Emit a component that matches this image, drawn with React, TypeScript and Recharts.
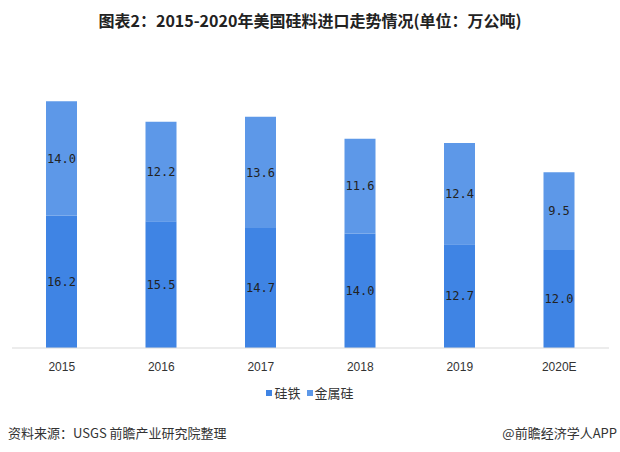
import React from 'react';
import { BarChart, Bar, XAxis, YAxis, LabelList } from 'recharts';

const years = ['2015', '2016', '2017', '2018', '2019', '2020E'];
const ferroSilicon = [16.2, 15.5, 14.7, 14.0, 12.7, 12.0];
const metalSilicon = [14.0, 12.2, 13.6, 11.6, 12.4, 9.5];
const seriesNames = ['硅铁', '金属硅'];
const seriesColors = ['#3f84e4', '#5d98e8'];

const data = years.map((y, i) => ({ year: y, fe: ferroSilicon[i], si: metalSilicon[i] }));

const CJK = '"Microsoft YaHei", "Noto Sans CJK SC", sans-serif';

const fmt = (v: any) => Number(v).toFixed(1);

export default function App() {
  return (
    <div style={{ position: 'absolute', left: 0, top: 0, width: 620, height: 452, background: '#fff', overflow: 'hidden' }}>
      <div style={{ position: 'absolute', top: 8, left: 0, width: 620, textAlign: 'center', fontFamily: CJK, fontWeight: 'bold', fontSize: 16, color: '#222' }}>
        图表2：2015-2020年美国硅料进口走势情况(单位：万公吨)
      </div>
      <BarChart width={620} height={452} data={data} margin={{ top: 62, right: 11, bottom: 74, left: 12 }}>
        <XAxis dataKey="year" axisLine={{ stroke: '#d9d9d9' }} tickLine={false} height={30}
          tick={{ fill: '#333', fontSize: 12, fontFamily: '"Liberation Sans", Arial, sans-serif' }} tickMargin={8} />
        <YAxis hide domain={[0, 35]} />
        <Bar dataKey="fe" name={seriesNames[0]} stackId="a" fill={seriesColors[0]} barSize={31} isAnimationActive={false}>
          <LabelList dataKey="fe" position="center" formatter={fmt} fill="#222" fontSize={12} fontFamily='"DejaVu Sans Mono", monospace' />
        </Bar>
        <Bar dataKey="si" name={seriesNames[1]} stackId="a" fill={seriesColors[1]} barSize={31} isAnimationActive={false}>
          <LabelList dataKey="si" position="center" formatter={fmt} fill="#222" fontSize={12} fontFamily='"DejaVu Sans Mono", monospace' />
        </Bar>
      </BarChart>
      <div style={{ position: 'absolute', top: 383, left: 0, width: 620, textAlign: 'center', fontFamily: CJK, fontSize: 13, color: '#333' }}>
        {seriesNames.map((n, i) => (
          <span key={n} style={{ marginLeft: i ? 6 : 0 }}>
            <span style={{ display: 'inline-block', width: 6, height: 6, background: seriesColors[i], marginRight: 2, verticalAlign: 'middle', position: 'relative', top: -1 }} />
            {n}
          </span>
        ))}
      </div>
      <div style={{ position: 'absolute', top: 423, left: 8, fontFamily: CJK, fontSize: 13, color: '#333' }}>
        资料来源：USGS 前瞻产业研究院整理
      </div>
      <div style={{ position: 'absolute', top: 423, right: 3, fontFamily: CJK, fontSize: 13, color: '#333' }}>
        @前瞻经济学人APP
      </div>
    </div>
  );
}
